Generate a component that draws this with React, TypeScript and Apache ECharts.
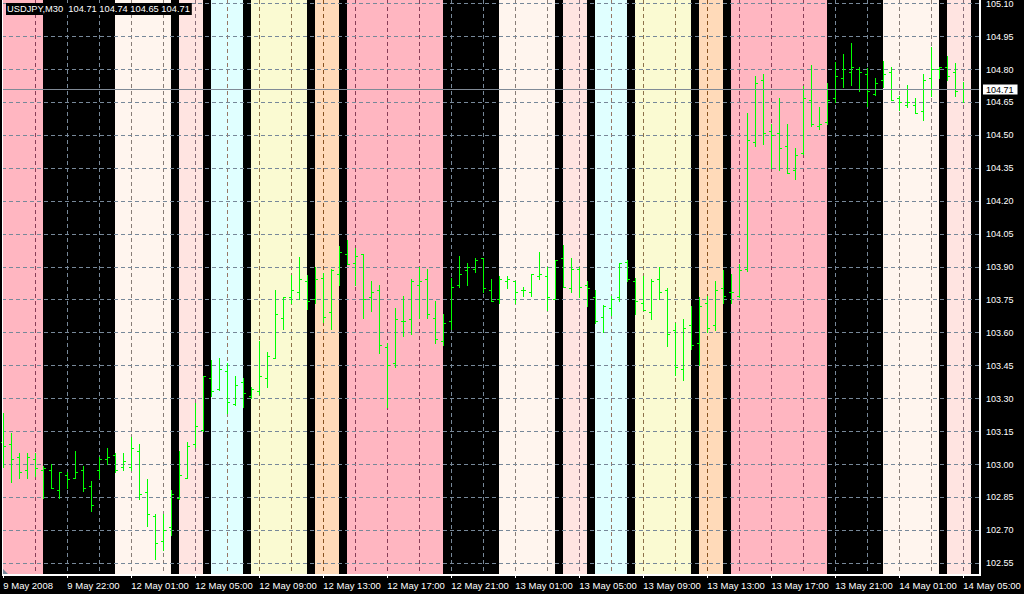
import React, { useEffect, useRef } from 'react';
import * as echarts from 'echarts';

const SYMBOL = 'USDJPY,M30';

// OHLC bars (M30), one per 30 minutes, index 0..120
const barOpen = [
  103.100, 103.090, 103.030, 102.973, 103.021, 102.973, 102.973, 102.882, 102.949, 102.938,
  102.973, 102.898, 102.973, 103.021, 103.040, 102.988, 102.988, 103.058, 102.871, 102.762,
  102.648, 102.712, 102.847, 102.938, 103.090, 103.156, 103.391, 103.341, 103.423, 103.273,
  103.373, 103.312, 103.332, 103.391, 103.482, 103.667, 103.759, 103.782, 103.832, 103.750,
  103.850, 103.692, 103.868, 103.959, 103.918, 103.959, 103.759, 103.791, 103.532, 103.459,
  103.650, 103.659, 103.818, 103.841, 103.667, 103.559, 103.650, 103.818, 103.882, 103.891,
  103.941, 103.791, 103.750, 103.832, 103.832, 103.791, 103.782, 103.859, 103.859, 103.750,
  103.941, 103.800, 103.891, 103.818, 103.759, 103.668, 103.709, 103.759, 103.923, 103.832,
  103.732, 103.691, 103.841, 103.791, 103.609, 103.432, 103.632, 103.550, 103.732, 103.632,
  103.800, 103.782, 103.768, 103.891, 104.468, 104.750, 104.518, 104.509, 104.450, 104.341,
  104.418, 104.659, 104.541, 104.559, 104.668, 104.759, 104.786, 104.800, 104.777, 104.686,
  104.750, 104.786, 104.668, 104.636, 104.636, 104.609, 104.759, 104.800, 104.809, 104.786,
  104.710,
];
const barHigh = [
  103.232, 103.141, 103.050, 103.050, 103.050, 102.992, 102.998, 102.964, 102.964, 103.059,
  102.992, 102.923, 103.030, 103.073, 103.050, 103.050, 103.122, 103.090, 102.932, 102.771,
  102.771, 102.882, 103.058, 103.100, 103.276, 103.402, 103.474, 103.483, 103.459, 103.402,
  103.391, 103.350, 103.561, 103.511, 103.792, 103.761, 103.861, 103.942, 103.861, 103.900,
  103.871, 103.891, 103.992, 104.020, 103.986, 103.959, 103.833, 103.818, 103.550, 103.709,
  103.768, 103.841, 103.900, 103.891, 103.742, 103.682, 103.850, 103.950, 103.918, 103.941,
  103.941, 103.841, 103.859, 103.859, 103.832, 103.809, 103.868, 103.968, 103.900, 103.932,
  104.000, 103.941, 103.900, 103.832, 103.791, 103.727, 103.764, 103.918, 103.932, 103.850,
  103.859, 103.841, 103.900, 103.800, 103.641, 103.659, 103.718, 103.759, 103.768, 103.832,
  103.882, 103.868, 103.911, 104.600, 104.768, 104.777, 104.550, 104.668, 104.550, 104.441,
  104.723, 104.818, 104.627, 104.736, 104.832, 104.868, 104.918, 104.809, 104.805, 104.759,
  104.836, 104.809, 104.677, 104.727, 104.668, 104.777, 104.900, 104.809, 104.859, 104.827,
  104.740,
];
const barLow = [
  102.988, 102.919, 102.938, 102.938, 102.944, 102.847, 102.889, 102.847, 102.889, 102.938,
  102.877, 102.786, 102.938, 102.998, 102.964, 102.973, 102.973, 102.839, 102.719, 102.569,
  102.610, 102.678, 102.839, 102.938, 103.076, 103.149, 103.308, 103.339, 103.232, 103.271,
  103.258, 103.303, 103.318, 103.349, 103.482, 103.617, 103.732, 103.750, 103.708, 103.732,
  103.649, 103.617, 103.815, 103.911, 103.815, 103.667, 103.698, 103.508, 103.258, 103.441,
  103.582, 103.591, 103.667, 103.667, 103.550, 103.541, 103.617, 103.809, 103.818, 103.873,
  103.786, 103.741, 103.732, 103.800, 103.732, 103.768, 103.768, 103.841, 103.700, 103.750,
  103.809, 103.782, 103.759, 103.718, 103.641, 103.600, 103.677, 103.741, 103.832, 103.682,
  103.700, 103.659, 103.750, 103.539, 103.405, 103.382, 103.523, 103.450, 103.600, 103.609,
  103.732, 103.732, 103.759, 103.880, 104.450, 104.459, 104.350, 104.341, 104.327, 104.300,
  104.414, 104.541, 104.527, 104.550, 104.650, 104.718, 104.727, 104.700, 104.632, 104.682,
  104.718, 104.659, 104.614, 104.627, 104.600, 104.568, 104.677, 104.759, 104.750, 104.677,
  104.650,
];
const barClose = [
  103.081, 103.021, 102.964, 103.030, 102.980, 102.980, 102.889, 102.964, 102.930, 102.964,
  102.889, 102.812, 103.021, 103.030, 102.973, 103.012, 103.071, 102.862, 102.771, 102.639,
  102.698, 102.862, 102.949, 103.081, 103.172, 103.402, 103.332, 103.432, 103.282, 103.361,
  103.323, 103.341, 103.402, 103.491, 103.682, 103.761, 103.791, 103.841, 103.741, 103.841,
  103.668, 103.882, 103.968, 103.911, 103.950, 103.750, 103.782, 103.541, 103.450, 103.659,
  103.650, 103.832, 103.832, 103.682, 103.568, 103.641, 103.809, 103.868, 103.900, 103.932,
  103.800, 103.741, 103.841, 103.841, 103.782, 103.791, 103.868, 103.868, 103.759, 103.932,
  103.809, 103.891, 103.809, 103.800, 103.650, 103.718, 103.750, 103.914, 103.841, 103.741,
  103.700, 103.832, 103.782, 103.591, 103.441, 103.618, 103.541, 103.718, 103.618, 103.791,
  103.768, 103.782, 103.885, 104.477, 104.736, 104.509, 104.500, 104.441, 104.327, 104.409,
  104.668, 104.550, 104.550, 104.659, 104.768, 104.800, 104.809, 104.786, 104.700, 104.736,
  104.777, 104.659, 104.650, 104.650, 104.600, 104.750, 104.800, 104.809, 104.768, 104.700,
  104.710,
];

// time axis labels (every 8 bars)
const xTickBars = [0, 8, 16, 24, 32, 40, 48, 56, 64, 72, 80, 88, 96, 104, 112, 120];
const xTickLabels = [
  '9 May 2008', '9 May 22:00', '12 May 01:00', '12 May 05:00', '12 May 09:00', '12 May 13:00',
  '12 May 17:00', '12 May 21:00', '13 May 01:00', '13 May 05:00', '13 May 09:00', '13 May 13:00',
  '13 May 17:00', '13 May 21:00', '14 May 01:00', '14 May 05:00',
];
// vertical grid every 4 bars
const vGridBars = [
  4, 8, 12, 16, 20, 24, 28, 32, 36, 40, 44, 48, 52, 56, 60, 64, 68, 72, 76, 80,
  84, 88, 92, 96, 100, 104, 108, 112, 116, 120,
];
// price axis labels
const yTickLabels = [
  '102.55', '102.70', '102.85', '103.00', '103.15', '103.30', '103.45', '103.60', '103.75',
  '103.90', '104.05', '104.20', '104.35', '104.50', '104.65', '104.80', '104.95', '105.10',
];

// session bands (bar index start/end, colour)
const bandStart = [-1, 14, 22, 26, 31, 39, 43, 62, 70, 74, 79, 87, 91, 110, 118];
const bandEnd = [5, 21, 25, 30, 38, 42, 55, 69, 73, 78, 86, 90, 103, 117, 121];
const bandColor = [
  '#ffb6c1', '#fff5ee', '#ffe4e1', '#e0ffff', '#fafad2', '#ffdab9',
  '#ffb6c1', '#fff5ee', '#ffe4e1', '#e0ffff', '#fafad2', '#ffdab9',
  '#ffb6c1', '#fff5ee', '#ffe4e1',
];

const FONT = 'Liberation Sans';
const GRID_COLOR = '#778899';
const BAR_COLOR = '#00ff00';

const xorHex = (a: string, b: string) =>
  '#' +
  [0, 1, 2]
    .map((k) =>
      (parseInt(a.substr(1 + 2 * k, 2), 16) ^ parseInt(b.substr(1 + 2 * k, 2), 16))
        .toString(16)
        .padStart(2, '0')
    )
    .join('');

const bgAt = (i: number) => {
  for (let k = 0; k < bandStart.length; k++) {
    if (i > bandStart[k] && i < bandEnd[k]) return bandColor[k];
  }
  return '#000000';
};

export default function App() {
  const ref = useRef<HTMLDivElement>(null);
  useEffect(() => {
    if (!ref.current) return;
    const chart = echarts.init(ref.current, undefined, { renderer: 'svg' });
    const n = barOpen.length;
    const last = n - 1;
    const ohlc = barOpen.map((o, i) => [i, o, barHigh[i], barLow[i], barClose[i]]);
    const bands = bandStart.map((s, k) => [s, bandEnd[k], k]);
    const yTickValues = yTickLabels.map(Number);
    const xMin = -0.1625;
    const xMax = 122.0875;
    const yMin = 102.4967;
    const yMax = 105.1169;
    const titleText = `${SYMBOL}  ${barOpen[last].toFixed(2)} ${barHigh[last].toFixed(2)} ${barLow[last].toFixed(2)} ${barClose[last].toFixed(2)}`;

    const option: any = {
      animation: false,
      backgroundColor: '#000000',
      title: {
        text: titleText,
        left: 6,
        top: 3,
        padding: [1, 2, 1, 1],
        backgroundColor: '#000000',
        textStyle: { color: '#ffffff', fontSize: 9.3, fontFamily: FONT, fontWeight: 'normal', lineHeight: 10 },
        z: 50,
      },
      grid: { left: 2, right: 44, top: 0, bottom: 19, containLabel: false, outerBoundsMode: 'none' },
      xAxis: {
        type: 'value',
        min: xMin,
        max: xMax,
        axisLine: { show: false },
        splitLine: { show: false },
        axisTick: { show: true, length: 3, lineStyle: { color: '#ffffff', width: 1 }, customValues: xTickBars },
        axisLabel: {
          customValues: xTickBars,
          formatter: (v: number) => {
            const k = xTickBars.indexOf(Math.round(v));
            return k >= 0 ? xTickLabels[k] : '';
          },
          color: '#ffffff',
          fontSize: 9.5,
          fontFamily: FONT,
          align: 'left',
          margin: 5,
        },
      },
      yAxis: {
        type: 'value',
        position: 'right',
        min: yMin,
        max: yMax,
        axisLine: { show: false },
        splitLine: { show: false },
        axisTick: { show: true, length: 3, lineStyle: { color: '#ffffff', width: 1 }, customValues: yTickValues },
        axisLabel: {
          customValues: yTickValues,
          formatter: (v: number) => v.toFixed(2),
          color: '#ffffff',
          fontSize: 9,
          fontFamily: FONT,
          margin: 6,
        },
      },
      graphic: [
        { type: 'line', z: 100, silent: true, shape: { x1: 2.5, y1: -1, x2: 2.5, y2: 576 }, style: { stroke: '#ffffff', lineWidth: 1 } },
        { type: 'line', z: 100, silent: true, shape: { x1: 980, y1: -1, x2: 980, y2: 576 }, style: { stroke: '#ffffff', lineWidth: 2 } },
        { type: 'line', z: 100, silent: true, shape: { x1: 2, y1: 575, x2: 981, y2: 575 }, style: { stroke: '#ffffff', lineWidth: 2 } },
        { type: 'polygon', z: 100, silent: true, shape: { points: [[3, 569], [3, 574], [8, 574]] }, style: { fill: '#778899' } },
      ],
      series: [
        {
          type: 'custom',
          name: 'bands',
          z: 1,
          silent: true,
          data: bands,
          encode: { x: [0, 1] },
          renderItem: (params: any, api: any) => {
            const cs = params.coordSys;
            const s = api.coord([api.value(0), yMin])[0];
            const e = api.coord([api.value(1), yMin])[0];
            const x1 = Math.max(Math.floor(s), cs.x);
            const x2 = Math.min(Math.floor(e), cs.x + cs.width);
            return {
              type: 'rect',
              shape: { x: x1, y: cs.y, width: x2 - x1, height: cs.height },
              style: { fill: bandColor[api.value(2)] },
            };
          },
        },
        {
          type: 'custom',
          name: 'vgrid',
          z: 2,
          silent: true,
          data: vGridBars.map((b) => [b]),
          encode: { x: 0 },
          renderItem: (params: any, api: any) => {
            const cs = params.coordSys;
            const b = api.value(0);
            const x = Math.floor(api.coord([b, yMin])[0]) + 0.5;
            return {
              type: 'line',
              shape: { x1: x, y1: cs.y, x2: x, y2: cs.y + cs.height },
              style: { stroke: xorHex(GRID_COLOR, bgAt(b)), lineWidth: 1, lineDash: [4, 3] },
            };
          },
        },
        {
          type: 'custom',
          name: 'hgrid',
          z: 3,
          silent: true,
          data: yTickValues.map((v) => [v]),
          encode: { y: 0 },
          renderItem: (params: any, api: any) => {
            const cs = params.coordSys;
            const y = Math.floor(api.coord([xMin, api.value(0)])[1]) + 0.5;
            return {
              type: 'line',
              shape: { x1: cs.x, y1: y, x2: cs.x + cs.width, y2: y },
              style: { stroke: GRID_COLOR, lineWidth: 1, lineDash: [4, 3] },
            };
          },
        },
        {
          type: 'custom',
          name: SYMBOL,
          z: 5,
          data: ohlc,
          encode: { x: 0, y: [1, 2, 3, 4] },
          renderItem: (params: any, api: any) => {
            const i = api.value(0);
            const pH = api.coord([i, api.value(2)]);
            const pL = api.coord([i, api.value(3)]);
            const pO = api.coord([i, api.value(1)]);
            const pC = api.coord([i, api.value(4)]);
            const px = Math.floor(pH[0]);
            const xc = px + 0.5;
            const st = { stroke: BAR_COLOR, lineWidth: 1 };
            const yo = Math.floor(pO[1]) + 0.5;
            const yc = Math.floor(pC[1]) + 0.5;
            return {
              type: 'group',
              children: [
                { type: 'line', shape: { x1: xc, y1: Math.floor(pH[1]), x2: xc, y2: Math.floor(pL[1]) + 1 }, style: st },
                { type: 'line', shape: { x1: px - 2, y1: yo, x2: px + 1, y2: yo }, style: st },
                { type: 'line', shape: { x1: px, y1: yc, x2: px + 3, y2: yc }, style: st },
              ],
            };
          },
        },
        {
          type: 'custom',
          name: 'last',
          z: 6,
          silent: true,
          data: [[barClose[last]]],
          encode: { y: 0 },
          renderItem: (params: any, api: any) => {
            const cs = params.coordSys;
            const y = Math.floor(api.coord([xMin, api.value(0)])[1]) + 0.5;
            return {
              type: 'group',
              children: [
                { type: 'line', shape: { x1: cs.x, y1: y, x2: cs.x + cs.width, y2: y }, style: { stroke: '#808a96', lineWidth: 1 } },
                {
                  type: 'text',
                  x: cs.x + cs.width + 3,
                  y: y,
                  style: {
                    text: barClose[last].toFixed(2),
                    fill: '#000000',
                    backgroundColor: '#ffffff',
                    padding: [1, 4, 0, 3],
                    fontSize: 9,
                    fontFamily: FONT,
                    verticalAlign: 'middle',
                    align: 'left',
                  },
                },
              ],
            };
          },
        },
      ],
    };
    chart.setOption(option);
    return () => chart.dispose();
  }, []);
  return <div ref={ref} style={{ position: 'fixed', left: 0, top: 0, width: 1024, height: 594 }} />;
}
